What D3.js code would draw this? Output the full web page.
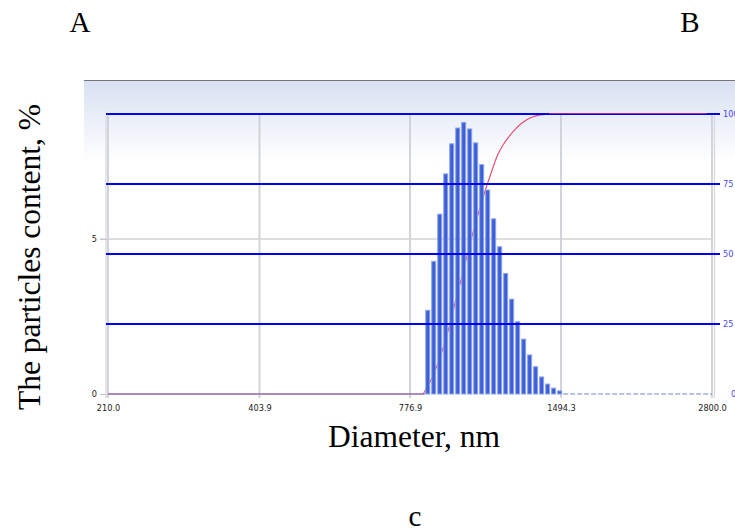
<!DOCTYPE html>
<html>
<head>
<meta charset="utf-8">
<script src="https://cdn.jsdelivr.net/npm/d3@7"></script>
<style>
  body { margin: 0; background: #fff; }
  svg { display: block; }
</style>
</head>
<body>
<div id="container"></div>
<script>
//DATA
// x axis ticks (diameter, nm), log spaced
const diameterTicks = [210.0, 403.9, 776.9, 1494.3, 2800.0];
// histogram bin edges (nm)
const binEdges = [830, 851.8, 874.2, 897.2, 920.8, 945.0, 969.9, 995.4, 1021.6,
  1048.5, 1076.0, 1104.3, 1133.4, 1163.2, 1193.8, 1225.2, 1257.4, 1290.5,
  1324.4, 1359.3, 1395.0, 1431.7, 1469.4, 1508.0];
// particle content per bin, %
const particlePct = [2.7, 4.28, 5.8, 7.1, 8.07, 8.58, 8.76, 8.55, 8.1, 7.4, 6.58,
  5.65, 4.75, 3.89, 3.06, 2.33, 1.77, 1.26, 0.88, 0.55, 0.32, 0.19, 0.1];
// cumulative curve (right axis)
const cumDiameter = [210, 822, 827, 850, 873, 896, 920, 944, 969.9, 995.4, 1021.6,
  1048.5, 1076.0, 1104.3, 1133.4, 1163.2, 1193.8, 1225.2, 1257.4, 1290.5,
  1324.4, 1359.3, 1395.0, 1431.7, 1469.4, 2740];
const cumPercent = [0, 0, 0.8, 4.8, 10, 16.2, 23.8, 32.4, 41, 49.6, 58, 65.6, 72.6,
  79, 85, 89, 92, 94.5, 96.5, 98, 99, 99.6, 99.8, 100, 100, 100];
// axis ticks
const contentTicks = [0, 5];
const percentTicks = [0, 25, 50, 75, 100];

//SVG
const width = 735;
const height = 531;

const svg = d3.select("div#container").append("svg")
    .attr("width", width)
    .attr("height", height);

//SCALES
const xScale = d3.scaleLog()
    .domain(diameterTicks)
    .range([108, 259.5, 410, 561, 712]);
const yScale = d3.scaleLinear().domain([0, 5]).range([394, 239]);
const y2Scale = d3.scaleLinear().domain([0, 100]).range([394, 114]);

const tickFont = "DejaVu Sans, Verdana, sans-serif";

//BACKGROUND
const defs = svg.append("defs");
const grad = defs.append("linearGradient")
    .attr("id", "bg").attr("x1", 0).attr("y1", 0).attr("x2", 0).attr("y2", 1);
grad.append("stop").attr("offset", "0%").attr("stop-color", "#d8e1f2");
grad.append("stop").attr("offset", "100%").attr("stop-color", "#ffffff");

svg.append("rect")
    .attr("x", 84).attr("y", 80)
    .attr("width", width - 84).attr("height", 82)
    .attr("fill", "url(#bg)");
svg.append("line")
    .attr("x1", 84).attr("x2", width)
    .attr("y1", 80.5).attr("y2", 80.5)
    .attr("stroke", "#777").attr("stroke-width", 1.2);

//GRID (vertical)
svg.append("g")
    .selectAll("line.vgrid")
    .data(diameterTicks)
    .enter().append("line")
      .attr("class", "vgrid")
      .attr("x1", d => xScale(d)).attr("x2", d => xScale(d))
      .attr("y1", y2Scale(100)).attr("y2", yScale(0) + 4)
      .attr("stroke", "#cdd0d5").attr("stroke-width", 1.8);
// frame doubles at the ends
svg.append("g")
    .selectAll("line.frame")
    .data([xScale(210) - 2, xScale(2800) + 2.5])
    .enter().append("line")
      .attr("x1", d => d).attr("x2", d => d)
      .attr("y1", y2Scale(100) + 2).attr("y2", yScale(0) + 4)
      .attr("stroke", "#d6d8dc").attr("stroke-width", 1.2);

// left axis grid
svg.append("g")
    .selectAll("line.hgrid")
    .data(contentTicks.filter(d => d > 0))
    .enter().append("line")
      .attr("x1", 100).attr("x2", xScale(2800))
      .attr("y1", d => yScale(d)).attr("y2", d => yScale(d))
      .attr("stroke", "#d3d3d3").attr("stroke-width", 1.3);

//LEFT AXIS
const yAxis = svg.append("g")
    .attr("transform", "translate(107,0)")
    .call(d3.axisLeft(yScale).tickValues(contentTicks)
      .tickFormat(d3.format("d")).tickSize(7).tickPadding(3));
yAxis.select(".domain").remove();
yAxis.selectAll(".tick line").attr("stroke", "#c8c8c8");
yAxis.selectAll(".tick text")
    .attr("font-family", tickFont)
    .attr("font-size", 8.2).attr("fill", "#222");

//CUMULATIVE CURVE (behind bars)
const cumLine = d3.line()
    .x((d, i) => xScale(cumDiameter[i]))
    .y(d => y2Scale(d))
    .curve(d3.curveMonotoneX);
svg.append("path")
    .datum(cumPercent)
    .attr("d", cumLine)
    .attr("fill", "none")
    .attr("stroke", "#e8456a")
    .attr("stroke-width", 1.1);

//BARS
svg.append("g")
    .selectAll("rect.bar")
    .data(particlePct)
    .enter().append("rect")
      .attr("class", "bar")
      .attr("x", (d, i) => xScale(binEdges[i]) + 0.5)
      .attr("width", (d, i) => xScale(binEdges[i + 1]) - xScale(binEdges[i]) - 2)
      .attr("y", d => yScale(d))
      .attr("height", d => yScale(0) - yScale(d))
      .attr("fill", "#3b5fd8")
      .attr("stroke", "#8ea3e6")
      .attr("stroke-width", 1);

//BASELINE
svg.append("line")
    .attr("x1", xScale(210)).attr("x2", xScale(binEdges[0]))
    .attr("y1", yScale(0)).attr("y2", yScale(0))
    .attr("stroke", "#6576c8").attr("stroke-width", 1);
svg.append("line")
    .attr("x1", xScale(binEdges[binEdges.length - 1])).attr("x2", xScale(2800))
    .attr("y1", yScale(0)).attr("y2", yScale(0))
    .attr("stroke", "#7585cc").attr("stroke-width", 1)
    .attr("stroke-dasharray", "5,2");

//RIGHT AXIS blue lines
svg.append("g")
    .selectAll("line.blue")
    .data(percentTicks.filter(d => d > 0))
    .enter().append("line")
      .attr("x1", xScale(210) - 2).attr("x2", 720)
      .attr("y1", d => y2Scale(d)).attr("y2", d => y2Scale(d))
      .attr("stroke", "#0000f5").attr("stroke-width", 2.2);
// red 100% plateau drawn on top of the blue line
svg.append("line")
    .attr("x1", xScale(1494.3) - 12).attr("x2", xScale(cumDiameter[cumDiameter.length - 1]))
    .attr("y1", y2Scale(100) - 0.5).attr("y2", y2Scale(100) - 0.5)
    .attr("stroke", "#e0306a").attr("stroke-width", 0.8);

svg.append("g")
    .selectAll("text.rlabel")
    .data(percentTicks)
    .enter().append("text")
      .attr("x", d => d === 0 ? 731 : 723)
      .attr("y", d => y2Scale(d))
      .attr("dy", "0.35em")
      .attr("font-family", tickFont)
      .attr("font-size", 8.2)
      .attr("fill", "#4a4aff")
      .text(d => d);

//X AXIS labels
const xAxis = svg.append("g")
    .attr("transform", "translate(0," + yScale(0) + ")")
    .call(d3.axisBottom(xScale).tickValues(diameterTicks)
      .tickFormat(d3.format(".1f")).tickSize(0).tickPadding(11));
xAxis.select(".domain").remove();
xAxis.selectAll(".tick text")
    .attr("font-family", tickFont)
    .attr("font-size", 8.2).attr("fill", "#222");

//TITLES
const serif = "Liberation Serif, Times New Roman, serif";
svg.append("text")
    .attr("transform", "translate(40,257) rotate(-90)")
    .attr("text-anchor", "middle")
    .attr("font-family", serif).attr("font-size", 31.5)
    .text("The particles content, %");
svg.append("text")
    .attr("x", 414).attr("y", 447)
    .attr("text-anchor", "middle")
    .attr("font-family", serif).attr("font-size", 31.5)
    .text("Diameter, nm");
svg.append("text")
    .attr("x", 80).attr("y", 32).attr("text-anchor", "middle")
    .attr("font-family", serif).attr("font-size", 29).text("A");
svg.append("text")
    .attr("x", 690).attr("y", 32).attr("text-anchor", "middle")
    .attr("font-family", serif).attr("font-size", 29).text("B");
svg.append("text")
    .attr("x", 415).attr("y", 526).attr("text-anchor", "middle")
    .attr("font-family", serif).attr("font-size", 29).text("c");
</script>
</body>
</html>
